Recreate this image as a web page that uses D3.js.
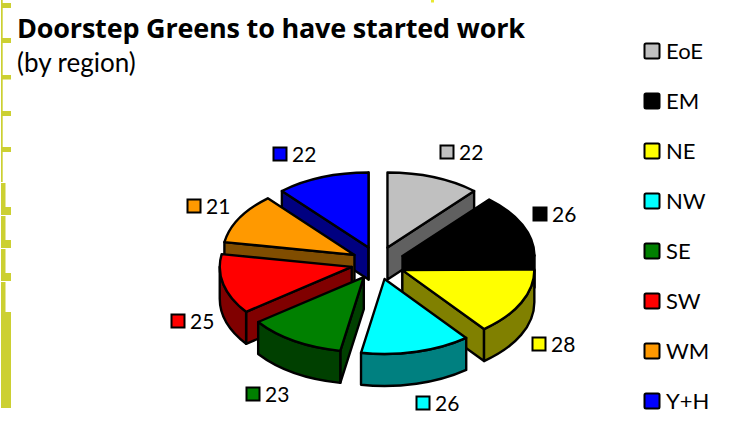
<!DOCTYPE html>
<html lang="en">
<head>
  <meta charset="utf-8" />
  <style>
    body { margin: 0; background: #fff; }
    svg { display: block; }
    text { font-family: Lato, sans-serif; fill: #000; }
  </style>
</head>
<body>
<script src="https://d3js.org/d3.v7.min.js"></script>
<script>
var regions = ["EoE", "EM", "NE", "NW", "SE", "SW", "WM", "Y+H"];
var values = [22, 26, 28, 26, 23, 25, 21, 22];
var colors = ["#c0c0c0", "#000000", "#ffff00", "#00ffff", "#008000", "#ff0000", "#ff9900", "#0000ff"];
var titleText = "Doorstep Greens to have started work";
var subtitleText = "(by region)";

// hand placed value labels, swatch centres
var labelSpots = [[447, 152], [540, 214], [539, 344], [423, 403], [253, 394], [178, 321], [194, 206], [280, 154]];

var cx = 378, cy = 263, rx = 132, ry = 75, depth = 32;
var explodeX = 27, explodeY = 16.5;

var svg = d3.select("body").append("svg")
  .attr("width", 736)
  .attr("height", 424);

// page furniture down the left edge
var strip = "#ccd032";
var furniture = [
  [1, 0, 1.7, 182], [1, 183, 4.5, 32], [1, 216, 4.5, 32], [1, 249, 4.5, 32], [1, 282, 4.5, 30], [1, 312, 10, 96],
  [1, 3, 10, 5], [1, 38, 10, 5], [1, 75, 10, 4.5], [1, 111, 10, 5], [1, 147, 10, 5],
  [1, 207, 10, 8], [1, 240, 10, 8], [1, 273, 10, 8]
];
svg.selectAll("rect.strip")
  .data(furniture)
  .enter()
  .append("rect")
    .attr("class", "strip")
    .attr("x", function(d){ return d[0]; })
    .attr("y", function(d){ return d[1]; })
    .attr("width", function(d){ return d[2]; })
    .attr("height", function(d){ return d[3]; })
    .style("fill", strip);
svg.append("rect")
  .attr("x", 431).attr("y", 0).attr("width", 3).attr("height", 2.5)
  .style("fill", "#e8e830");

svg.append("text")
  .attr("x", 17).attr("y", 38)
  .attr("textLength", 508)
  .style("font-family", "'Open Sans', sans-serif")
  .style("font-size", "27px").style("font-weight", 700)
  .text(titleText);
svg.append("text")
  .attr("x", 17).attr("y", 72)
  .style("font-size", "26px")
  .text(subtitleText);

var pie = d3.pie().sort(null).value(function(d){ return d.value; });
var slices = pie(regions.map(function(r, i){
  return { region: r, value: values[i], color: colors[i], spot: labelSpots[i] };
}));

slices.forEach(function(s){
  var mid = (s.startAngle + s.endAngle) / 2;
  s.ox = cx + explodeX * Math.sin(mid);
  s.oy = cy - explodeY * Math.cos(mid);
});

function rim(s, a) {
  return [s.ox + rx * Math.sin(a), s.oy - ry * Math.cos(a)];
}
function arcTo(p, sweep) {
  return "A" + rx + "," + ry + " 0 0 " + sweep + " " + p[0] + "," + p[1];
}
function topPath(s) {
  var a = rim(s, s.startAngle), b = rim(s, s.endAngle);
  return "M" + s.ox + "," + s.oy + "L" + a + arcTo(b, 1) + "Z";
}
function radialWall(s, angle) {
  var p = rim(s, angle);
  return "M" + s.ox + "," + s.oy + "L" + p + "L" + p[0] + "," + (p[1] + depth) +
    "L" + s.ox + "," + (s.oy + depth) + "Z";
}
// outer wall only shows on the front half of the ellipse
function outerWall(s) {
  var a0 = Math.max(s.startAngle, Math.PI / 2), a1 = Math.min(s.endAngle, Math.PI * 3 / 2);
  if (a1 <= a0) return null;
  var a = rim(s, a0), b = rim(s, a1);
  return "M" + a + arcTo(b, 1) + "L" + b[0] + "," + (b[1] + depth) +
    arcTo([a[0], a[1] + depth], 0) + "Z";
}
function shade(c) {
  var k = d3.rgb(c);
  return d3.rgb(k.r / 2, k.g / 2, k.b / 2).formatHex();
}

// back slices first
var ordered = slices.slice().sort(function(a, b){ return a.oy - b.oy; });

var pieces = svg.selectAll("g.slice")
  .data(ordered)
  .enter()
  .append("g")
    .attr("class", "slice")
    .style("stroke", "#000")
    .style("stroke-width", 2.4)
    .style("stroke-linejoin", "round");

pieces.each(function(s){
  var g = d3.select(this), wall = shade(s.data.color);
  // only the cut faces turned towards the viewer
  if (Math.sin(s.startAngle) < -1e-6) g.append("path").attr("d", radialWall(s, s.startAngle)).style("fill", wall);
  if (Math.sin(s.endAngle) > -1e-6) g.append("path").attr("d", radialWall(s, s.endAngle)).style("fill", wall);
  var o = outerWall(s);
  if (o) g.append("path").attr("d", o).style("fill", wall);
  g.append("path").attr("d", topPath(s)).style("fill", s.data.color);
});

// value labels
var labels = svg.selectAll("g.value")
  .data(slices)
  .enter()
  .append("g")
    .attr("class", "value")
    .attr("transform", function(d){ return "translate(" + d.data.spot + ")"; });
labels.append("rect")
  .attr("x", -6.5).attr("y", -6.5).attr("width", 13).attr("height", 13)
  .style("fill", function(d){ return d.data.color; })
  .style("stroke", "#000").style("stroke-width", 2);
labels.append("text")
  .attr("x", 12).attr("y", 7.5)
  .style("font-size", "21px")
  .text(function(d){ return d.data.value; });

// legend
var legendY = d3.scalePoint().domain(regions).range([51, 401]);
var legend = svg.selectAll("g.key")
  .data(slices)
  .enter()
  .append("g")
    .attr("class", "key")
    .attr("transform", function(d){ return "translate(652," + legendY(d.data.region) + ")"; });
legend.append("rect")
  .attr("x", -7.5).attr("y", -7.5).attr("width", 15).attr("height", 15).attr("rx", 1.5)
  .style("fill", function(d){ return d.data.color; })
  .style("stroke", "#000").style("stroke-width", 2);
legend.append("text")
  .attr("x", 14).attr("y", 8)
  .style("font-size", "22px")
  .text(function(d){ return d.data.region; });
</script>
</body>
</html>
